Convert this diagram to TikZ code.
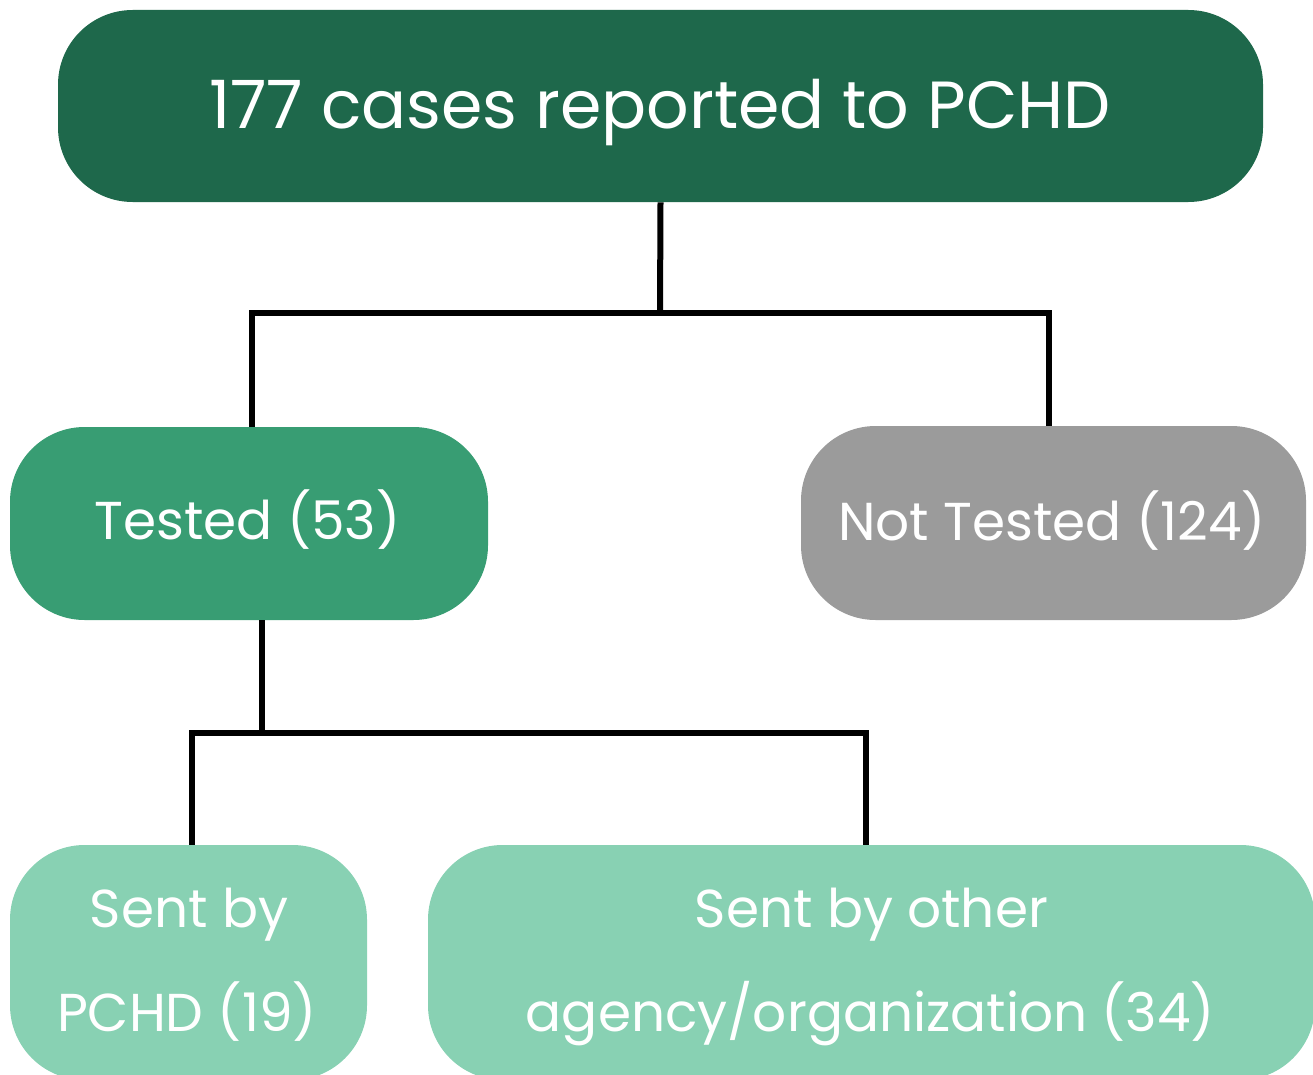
\documentclass[tikz,border=0pt]{standalone}
\usepackage{fontspec}
\setmainfont{Poppins}
\definecolor{cTop}{RGB}{30,104,75}
\definecolor{cTested}{RGB}{56,157,115}
\definecolor{cNot}{RGB}{155,155,155}
\definecolor{cSent}{RGB}{136,209,179}
\tikzset{
  box/.style={rectangle, rounded corners=56pt, inner sep=0pt},
  lbl/.style={anchor=base, inner sep=0pt, text=white, font=\fontsize{40}{48}\selectfont},
  conn/.style={line width=4.5pt, black, line join=miter},
}
\begin{document}
\begin{tikzpicture}[x=0.75pt, y=-0.75pt]
\clip (0,0) rectangle (1313,1074);
\node[box, fill=cTop, minimum width=903.75pt, minimum height=144pt] (top) at (660.5,106) {};
\node[box, fill=cTested, minimum width=358.5pt, minimum height=144.75pt] (tested) at (249,523.5) {};
\node[box, fill=cNot, minimum width=378.75pt, minimum height=145.5pt] (nt) at (1053.5,523) {};
\node[box, fill=cSent, minimum width=267.75pt, minimum height=176.25pt] (pchd) at (188.5,962.5) {};
\node[box, fill=cSent, minimum width=665.25pt, minimum height=176.25pt] (other) at (871.5,962.5) {};
\node[lbl, font=\fontsize{50}{60}\selectfont] (toptxt) at (660,128) {177 cases reported to PCHD};
\node[lbl] (testedtxt) at (247.5,539) {Tested (53)};
\node[lbl] (nttxt) at (1052,540) {Not Tested (124)};
\node[lbl] (pchdtxta) at (189,927) {Sent by};
\node[lbl] (pchdtxtb) at (187,1031.5) {PCHD (19)};
\node[lbl] (othertxta) at (871.5,927) {Sent by other};
\node[lbl] (othertxtb) at (870.5,1031) {agency/organization (34)};
\coordinate (j1) at (660,313);
\coordinate (j2) at (262,733);
\draw[conn] (top.south) -- (j1);
\draw[conn] ([xshift=2.25pt]tested.north) |- (j1) -| ([xshift=-3.4pt]nt.north);
\draw[conn] ([xshift=9.75pt]tested.south) -- (j2);
\draw[conn] ([xshift=2.6pt]pchd.north) |- (j2) -| ([xshift=-4.1pt]other.north);
\end{tikzpicture}
\end{document}
